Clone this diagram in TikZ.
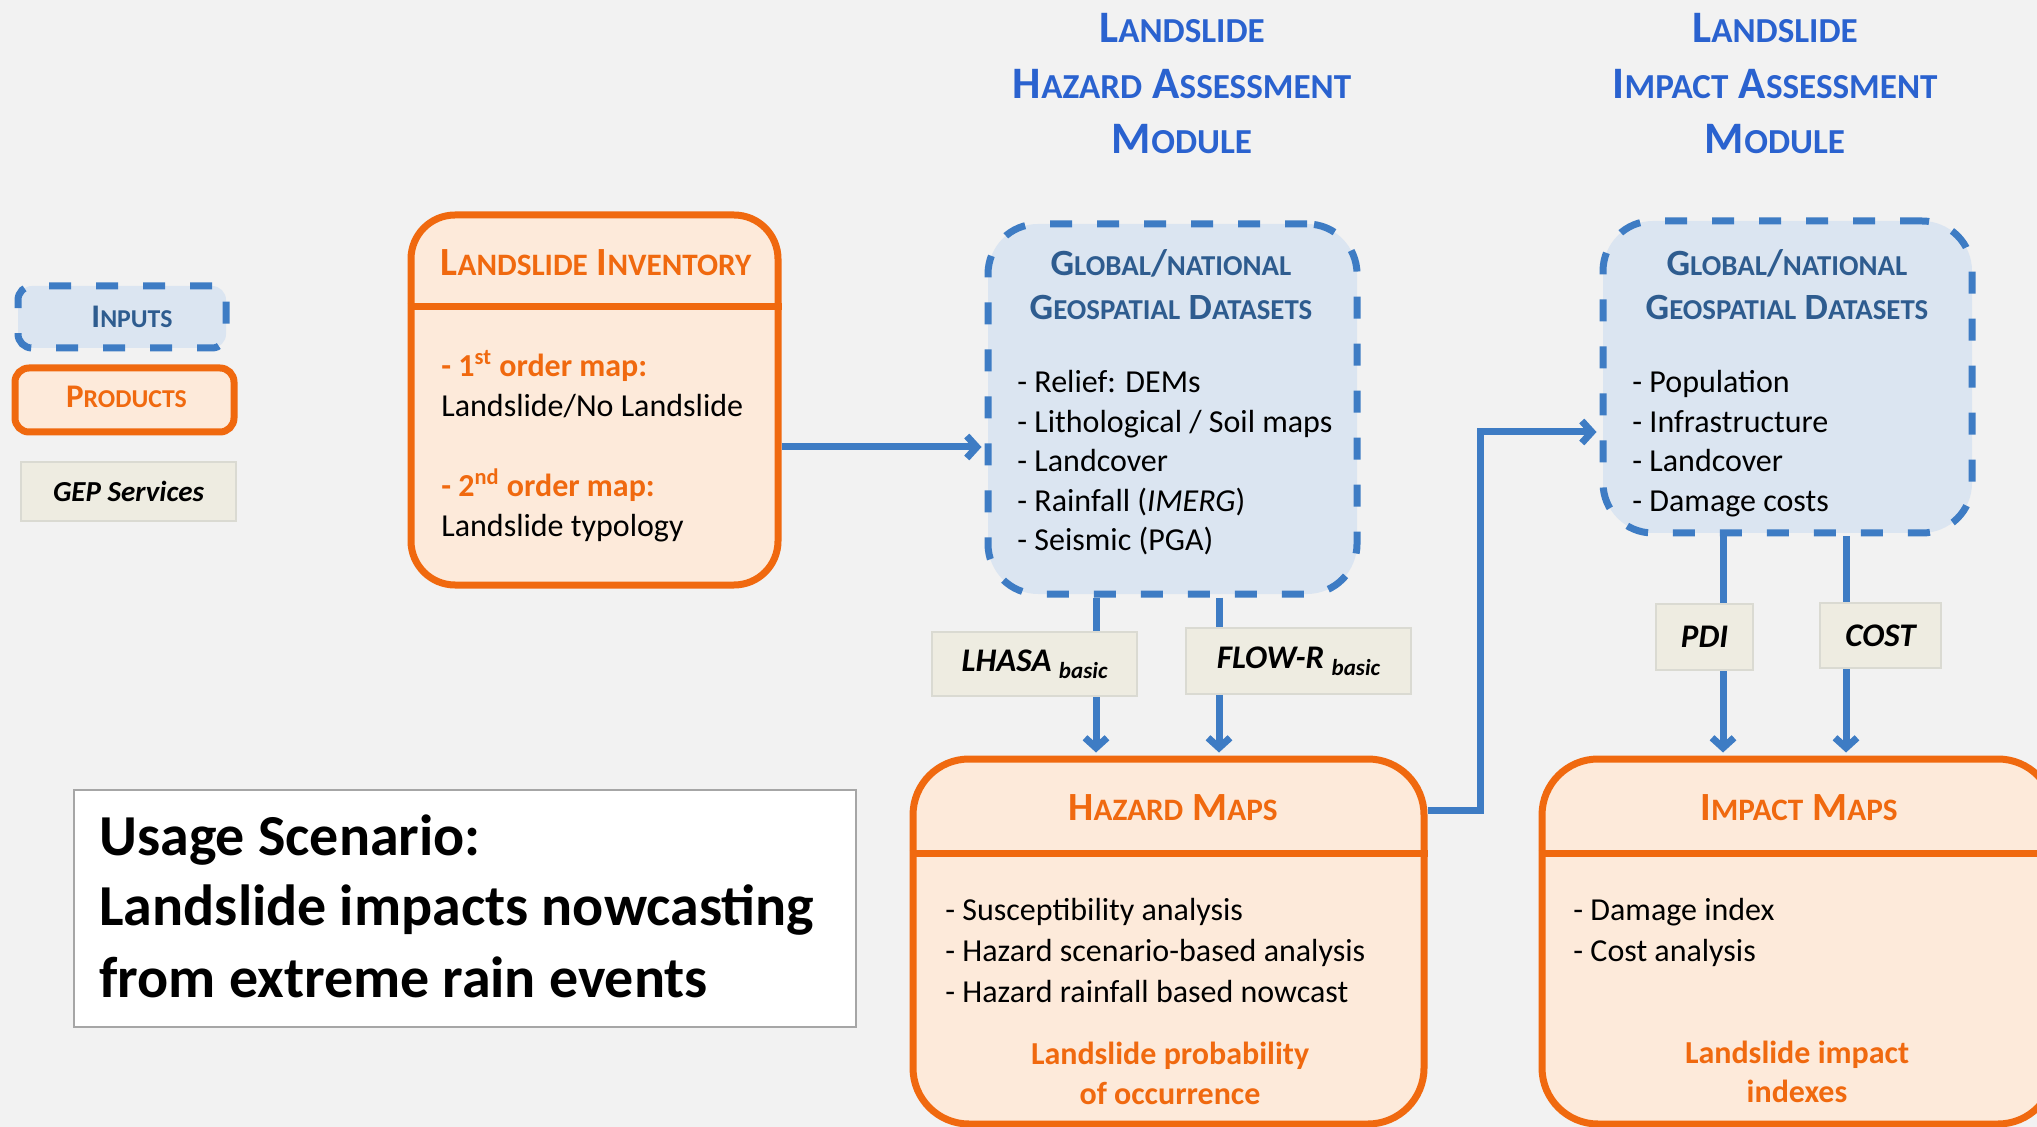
\documentclass[tikz,border=0pt]{standalone}
\usepackage{fontspec}
\setmainfont{Carlito}
\usetikzlibrary{arrows.meta}
\definecolor{bg}{HTML}{F2F2F2}
\definecolor{orng}{HTML}{F0690F}
\definecolor{peach}{HTML}{FDEADA}
\definecolor{blu}{HTML}{3E7CC4}
\definecolor{lblue}{HTML}{DBE5F1}
\definecolor{gepfill}{HTML}{EEECE1}
\definecolor{gepline}{HTML}{DADAD2}
\definecolor{ttlblue}{HTML}{2A62CF}
\definecolor{hdrblue}{HTML}{2E5C8F}
\makeatletter
\newcommand\fsc[1]{{\fontsize{\fpeval{0.78*\f@size}}{\f@baselineskip}\selectfont #1}}
\makeatother
\tikzset{
  prodbox/.style={draw=orng, fill=peach, line width=3.5pt, rounded corners=#1, inner sep=0},
  prodbox/.default=8pt,
  inbox/.style={draw=blu, fill=lblue, line width=3.5pt, dash pattern=on 11pt off 12.5pt, rounded corners=#1, inner sep=0},
  inbox/.default=8pt,
  gepbox/.style={draw=gepline, fill=gepfill, line width=0.8pt, inner sep=0,
     font=\fontsize{16.5}{20}\selectfont\bfseries\itshape},
  conn/.style={draw=blu, line width=3.5pt, shorten >=1.5pt, -{Straight Barb[length=5pt,width=11pt]}},
  divider/.style={draw=orng, line width=3.5pt},
  itm/.style={anchor=base west, inner sep=0, font=\fontsize{16}{19.5}\selectfont},
  oitm/.style={anchor=base west, inner sep=0, text=orng, font=\fontsize{16}{19.5}\selectfont\bfseries},
  octr/.style={anchor=base, inner sep=0, text=orng, font=\fontsize{16}{19.5}\selectfont\bfseries},
  ttl/.style={anchor=base, inner sep=0, text=ttlblue, font=\fontsize{22.5}{27}\selectfont\bfseries},
  dshdr/.style={anchor=base, inner sep=0, text=hdrblue, font=\fontsize{18.5}{22}\selectfont\bfseries},
  prhdr/.style={anchor=base, inner sep=0, text=orng, font=\fontsize{20}{24}\selectfont\bfseries},
  lghdr/.style={anchor=base, inner sep=0, font=\fontsize{16.5}{20}\selectfont\bfseries},
  usage/.style={anchor=base west, inner sep=0, font=\fontsize{29}{35}\selectfont\bfseries},
}
\begin{document}
\begin{tikzpicture}[x=0.5pt,y=-0.5pt]
\useasboundingbox (0,0) rectangle (2037,1127);
\fill[bg] (0,0) rectangle (2037,1127);

% titles
\node[ttl] (t1a) at (1182,43) {L\fsc{ANDSLIDE}};
\node[ttl] (t1b) at (1182,99) {H\fsc{AZARD} A\fsc{SSESSMENT}};
\node[ttl] (t1c) at (1182,154) {M\fsc{ODULE}};
\node[ttl] (t2a) at (1775,43) {L\fsc{ANDSLIDE}};
\node[ttl] (t2b) at (1775,99) {I\fsc{MPACT} A\fsc{SSESSMENT}};
\node[ttl] (t2c) at (1775,154) {M\fsc{ODULE}};

% legend
\node[inbox=7pt, minimum width=104pt, minimum height=31pt] (legin) at (122,317) {};
\node[lghdr, text=hdrblue] (legint) at (132,328) {I\fsc{NPUTS}};
\node[prodbox=7pt, minimum width=109.5pt, minimum height=32pt] (legpr) at (124.5,400) {};
\node[lghdr, text=orng] (legprt) at (126.5,408) {P\fsc{RODUCTS}};
\node[gepbox, minimum width=107.5pt, minimum height=29.5pt, font=\fontsize{14.5}{18}\selectfont\bfseries\itshape] (leggep) at (128.5,491.5) {GEP Services};

% main boxes
\node[prodbox=22pt, minimum width=183.5pt, minimum height=185pt] (inv) at (594.5,400) {};
\node[inbox=25pt, minimum width=184.5pt, minimum height=185pt] (hds) at (1172.5,409) {};
\node[inbox=25pt, minimum width=184.5pt, minimum height=156pt] (ids) at (1787.5,377) {};
\node[prodbox=28pt, minimum width=255.5pt, minimum height=182.5pt] (hm) at (1168.5,941.5) {};
\node[prodbox=28pt, minimum width=256pt, minimum height=182.5pt] (im) at (1798,941.5) {};
\node[draw=black!35, fill=white, line width=1pt, minimum width=391pt, minimum height=118.5pt, inner sep=0] (us) at (465,908.5) {};

% dividers
\coordinate (d1) at (0,307);
\coordinate (d2) at (0,853);
\draw[divider] (inv.west |- d1) -- (inv.east |- d1);
\draw[divider] (hm.west |- d2) -- (hm.east |- d2);
\draw[divider] (im.west |- d2) -- (im.east |- d2);

% inventory text
\node[prhdr] (invh) at (596,276) {L\fsc{ANDSLIDE} I\fsc{NVENTORY}};
\node[oitm] (inv1) at (441,377) {- 1\textsuperscript{st} order map:};
\node[itm] (inv2) at (441,417) {Landslide/No Landslide};
\node[oitm] (inv3) at (441,497) {- 2\textsuperscript{nd} order map:};
\node[itm] (inv4) at (441,537) {Landslide typology};

% hazard datasets text
\node[dshdr] (hdsh1) at (1171,276) {G\fsc{LOBAL}/\fsc{NATIONAL}};
\node[dshdr] (hdsh2) at (1171,320) {G\fsc{EOSPATIAL} D\fsc{ATASETS}};
\node[itm] (hds1) at (1017,393) {- Relief: DEMs};
\node[itm] (hds2) at (1017,433) {- Lithological / Soil maps};
\node[itm] (hds3) at (1017,472) {- Landcover};
\node[itm] (hds4) at (1017,512) {- Rainfall (\textit{IMERG})};
\node[itm] (hds5) at (1017,551) {- Seismic (PGA)};

% impact datasets text
\node[dshdr] (idsh1) at (1787,276) {G\fsc{LOBAL}/\fsc{NATIONAL}};
\node[dshdr] (idsh2) at (1787,320) {G\fsc{EOSPATIAL} D\fsc{ATASETS}};
\node[itm] (ids1) at (1632,393) {- Population};
\node[itm] (ids2) at (1632,433) {- Infrastructure};
\node[itm] (ids3) at (1632,472) {- Landcover};
\node[itm] (ids4) at (1632,512) {- Damage costs};

% hazard maps text
\node[prhdr] (hmh) at (1173,820) {H\fsc{AZARD} M\fsc{APS}};
\node[itm] (hm1) at (945,920) {- Susceptibility analysis};
\node[itm] (hm2) at (945,961) {- Hazard scenario-based analysis};
\node[itm] (hm3) at (945,1002) {- Hazard rainfall based nowcast};
\node[octr] (hmo1) at (1170,1064) {Landslide probability};
\node[octr] (hmo2) at (1170,1104) {of occurrence};

% impact maps text
\node[prhdr] (imh) at (1799,820) {I\fsc{MPACT} M\fsc{APS}};
\node[itm] (im1) at (1573,920) {- Damage index};
\node[itm] (im2) at (1573,961) {- Cost analysis};
\node[octr] (imo1) at (1797,1063) {Landslide impact};
\node[octr] (imo2) at (1797,1102) {indexes};

% usage scenario
\node[usage] (us1) at (99,855) {Usage Scenario:};
\node[usage] (us2) at (99,925) {Landslide impacts nowcasting};
\node[usage] (us3) at (99,997) {from extreme rain events};

% connectors
\coordinate (c1) at (0,447);
\draw[conn] (inv.east |- c1) -- (hds.west |- c1);
\coordinate (k1) at (1480,810);
\coordinate (k2) at (1480,432);
\draw[conn] (hm.east |- k1) -- (k1) -- (k2) -- (ids.west |- k2);
\coordinate (xl) at (1096,0);
\coordinate (xf) at (1219,0);
\coordinate (xp) at (1723,0);
\coordinate (xc) at (1846,0);
\draw[conn] (hds.south -| xl) -- (hm.north -| xl);
\draw[conn] (hds.south -| xf) -- (hm.north -| xf);
\draw[conn] (ids.south -| xp) -- (im.north -| xp);
\draw[conn] (ids.south -| xc) -- (im.north -| xc);

% service labels
\node[gepbox, minimum width=102.5pt, minimum height=32pt] (lhasa) at (1034.5,664)
  {LHASA \raisebox{-3.5pt}{\fontsize{11.5}{12}\selectfont basic}};
\node[gepbox, minimum width=112.5pt, minimum height=33pt] (flowr) at (1298.5,661)
  {FLOW-R \raisebox{-3.5pt}{\fontsize{11.5}{12}\selectfont basic}};
\node[gepbox, minimum width=48.5pt, minimum height=33pt] (pdi) at (1704.5,637) {PDI};
\node[gepbox, minimum width=60.5pt, minimum height=32.5pt] (cost) at (1880.5,635.5) {COST};
\end{tikzpicture}
\end{document}
